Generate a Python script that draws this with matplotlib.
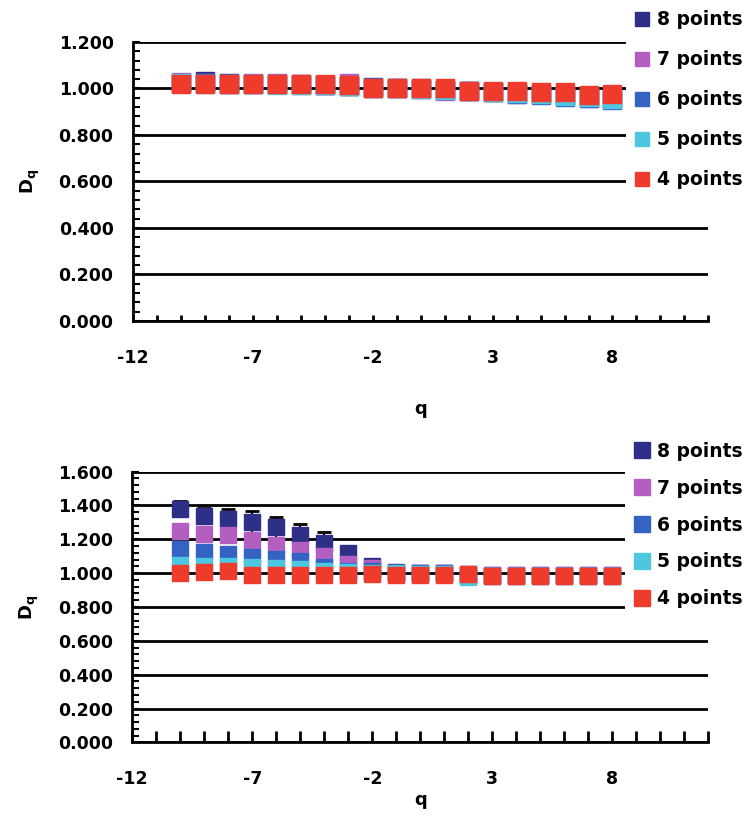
import matplotlib.pyplot as plt
from matplotlib.ticker import MultipleLocator, FormatStrFormatter
from matplotlib.lines import Line2D

# q values (x axis)
q = list(range(-10, 9))

series_labels = ['8 points', '7 points', '6 points', '5 points', '4 points']
series_colors = ['#2E2F86', '#B35FC2', '#3563C4', '#4DC6E0', '#EE3B2B']

# top chart values (Dq)
top_8 = [1.025, 1.030, 1.022, 1.020, 1.020, 1.018, 1.015, 1.010, 1.005, 1.002,
         1.000, 0.995, 0.990, 0.985, 0.980, 0.975, 0.970, 0.962, 0.955]
top_7 = [1.028, 1.025, 1.020, 1.022, 1.022, 1.018, 1.015, 1.023, 1.003, 1.000,
         0.996, 0.990, 0.988, 0.984, 0.978, 0.975, 0.968, 0.960, 0.955]
top_6 = [1.024, 1.022, 1.020, 1.020, 1.018, 1.016, 1.014, 1.010, 1.004, 1.000,
         0.997, 0.992, 0.988, 0.983, 0.977, 0.972, 0.965, 0.958, 0.950]
top_5 = [1.022, 1.021, 1.019, 1.019, 1.017, 1.015, 1.013, 1.010, 1.004, 1.001,
         0.998, 0.994, 0.990, 0.985, 0.979, 0.975, 0.968, 0.962, 0.955]
top_4 = [1.021, 1.021, 1.021, 1.021, 1.020, 1.020, 1.018, 1.013, 1.003, 1.003,
         1.003, 1.000, 0.991, 0.991, 0.991, 0.984, 0.984, 0.974, 0.976]
top_err = [0.012, 0.012, 0.012, 0.012, 0.012, 0.012, 0.010, 0.010, 0.008, 0.008,
           0.008, 0.008, 0.008, 0.008, 0.008, 0.008, 0.008, 0.008, 0.008]

# bottom chart values (Dq)
bot_8 = [1.380, 1.340, 1.320, 1.300, 1.270, 1.225, 1.180, 1.120, 1.040, 1.005,
         1.003, 1.002, 0.995, 0.990, 0.990, 0.990, 0.990, 0.990, 0.990]
bot_7 = [1.250, 1.230, 1.225, 1.196, 1.166, 1.137, 1.100, 1.056, 1.030, 1.003,
         1.002, 1.000, 0.990, 0.988, 0.988, 0.988, 0.988, 0.988, 0.988]
bot_6 = [1.140, 1.125, 1.115, 1.096, 1.084, 1.072, 1.037, 1.013, 1.010, 1.000,
         1.000, 0.998, 0.985, 0.985, 0.985, 0.985, 0.985, 0.985, 0.985]
bot_5 = [1.050, 1.045, 1.040, 1.035, 1.030, 1.025, 1.010, 1.005, 1.000, 0.998,
         0.996, 0.994, 0.975, 0.982, 0.982, 0.982, 0.982, 0.982, 0.982]
bot_4 = [1.000, 1.006, 1.010, 0.986, 0.990, 0.990, 0.990, 0.990, 0.994, 0.988,
         0.988, 0.990, 0.996, 0.982, 0.982, 0.982, 0.982, 0.982, 0.982]
bot_err_8 = [0.045, 0.045, 0.060, 0.065, 0.060, 0.065, 0.065, 0.020, 0.010, 0.005,
             0.005, 0.005, 0.005, 0.005, 0.005, 0.005, 0.005, 0.005, 0.005]
bot_err = [0.025, 0.025, 0.025, 0.025, 0.020, 0.020, 0.020, 0.015, 0.010, 0.005,
           0.005, 0.005, 0.005, 0.005, 0.005, 0.005, 0.005, 0.005, 0.005]

top_series = [top_8, top_7, top_6, top_5, top_4]
bot_series = [bot_8, bot_7, bot_6, bot_5, bot_4]
bot_errs = [bot_err_8, bot_err, bot_err, bot_err, bot_err]

plt.rcParams['font.family'] = ['DejaVu Sans']
plt.rcParams['font.weight'] = 'bold'
plt.rcParams['mathtext.fontset'] = 'dejavusans'
plt.rcParams['axes.unicode_minus'] = False

fig = plt.figure(figsize=(7.56, 8.23), dpi=100)
ax1 = fig.add_axes([0.176, 0.610, 0.761, 0.339])
ax2 = fig.add_axes([0.175, 0.098, 0.762, 0.329])


def style_axes(ax, ymax, xtick_len, xlabelpad, labelspacing, legend_top, legend_ms):
    ax.set_xlim(-12, 12)
    ax.set_ylim(0, ymax)
    ax.spines['top'].set_visible(False)
    ax.spines['right'].set_visible(False)
    for s in ['left', 'bottom']:
        ax.spines[s].set_linewidth(2)
        ax.spines[s].set_color('black')
    ax.xaxis.set_minor_locator(MultipleLocator(1))
    ax.set_xticks([-12, -7, -2, 3, 8])
    ax.yaxis.set_major_locator(MultipleLocator(0.2))
    ax.yaxis.set_minor_locator(MultipleLocator(0.04))
    ax.yaxis.set_major_formatter(FormatStrFormatter('%.3f'))
    ax.tick_params(axis='x', which='both', direction='in', length=xtick_len,
                   width=2, pad=20, labelsize=12.5)
    ax.tick_params(axis='y', which='both', direction='in', length=5,
                   width=1.5, pad=14, labelsize=12.5)
    for lab in ax.get_xticklabels() + ax.get_yticklabels():
        lab.set_fontweight('bold')
    ax.yaxis.grid(True, color='black', linewidth=2)
    ax.set_axisbelow(True)
    ax.set_xlabel('q', fontsize=13, fontweight='bold', labelpad=xlabelpad)
    ax.set_ylabel(r'$\mathbf{D_q}$', fontsize=13, labelpad=12)
    handles = [Line2D([], [], marker='s', linestyle='none', markersize=legend_ms,
                      color=c) for c in series_colors]
    leg = ax.legend(handles, series_labels, loc='upper left',
                    bbox_to_anchor=(0.856, legend_top), frameon=True,
                    prop={'weight': 'bold', 'size': 13.5}, handletextpad=0.3,
                    handlelength=1.0, labelspacing=labelspacing, borderaxespad=0)
    leg.get_frame().set_facecolor('white')
    leg.get_frame().set_edgecolor('none')
    leg.get_frame().set_alpha(1)


# top chart
for vals, col in zip(top_series, series_colors):
    ax1.errorbar(q, vals, yerr=top_err, fmt='s', color=col, markersize=13,
                 ecolor='black', elinewidth=1.5, capsize=5, capthick=1.5)
style_axes(ax1, 1.2, 4, 24, 1.12, 1.14, 9.5)

# bottom chart
for vals, err, col in zip(bot_series, bot_errs, series_colors):
    ax2.errorbar(q, vals, yerr=err, fmt='s', color=col, markersize=11,
                 ecolor='black', elinewidth=1.5, capsize=5, capthick=2)
style_axes(ax2, 1.6, 8, 2, 0.95, 1.137, 11)

fig.savefig('out.png', dpi=100)
